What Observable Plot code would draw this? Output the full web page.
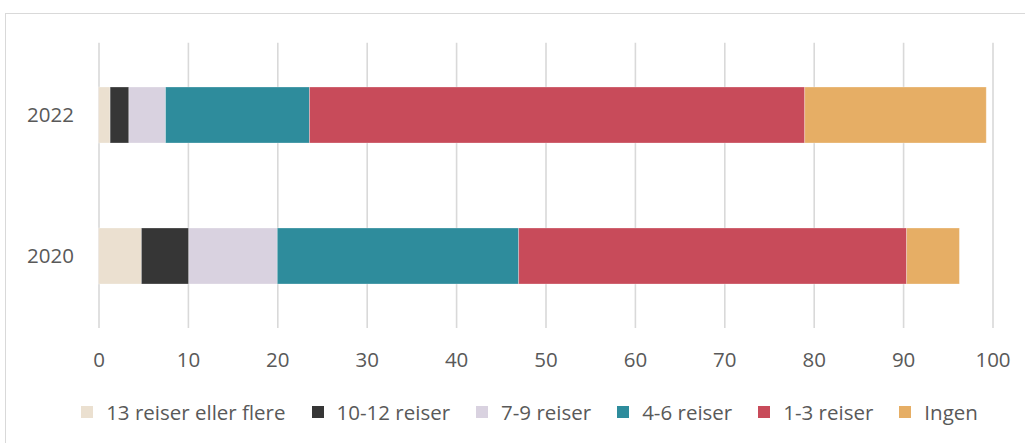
<!DOCTYPE html>
<html>
<head>
<meta charset="utf-8">
<script src="https://cdn.jsdelivr.net/npm/d3@7"></script>
<script src="https://cdn.jsdelivr.net/npm/@observablehq/plot@0.6"></script>
<style>
  body { margin: 0; background: #fff; }
  #wrap { position: relative; width: 1025px; height: 443px; overflow: hidden; font-family: "Open Sans", sans-serif; }
  #frame { position: absolute; left: 5px; top: 13px; width: 1040px; height: 440px; border: 1px solid #d9d9d9; box-sizing: border-box; }
  #chart { position: absolute; left: 0; top: 0; }
  #legend { position: absolute; left: 0; top: 398px; width: 1025px; display: flex; justify-content: center; padding-left: 34px; box-sizing: border-box; gap: 26px; font-size: 20.5px; color: #595959; }
  .item { display: flex; align-items: center; gap: 13px; white-space: nowrap; }
  .sw { width: 12px; height: 12px; display: inline-block; }
</style>
</head>
<body>
<div id="wrap">
  <div id="frame"></div>
  <div id="chart"></div>
  <div id="legend"></div>
</div>
<script>
const years = ["2022", "2020"];
const categories = ["13 reiser eller flere", "10-12 reiser", "7-9 reiser", "4-6 reiser", "1-3 reiser", "Ingen"];
const colors = ["#ebe0d0", "#363636", "#d9d2e0", "#2e8c9c", "#c84b5a", "#e6ae65"];
const values2022 = [1.3, 2.1, 4.1, 16.1, 55.4, 20.3];
const values2020 = [4.8, 5.3, 9.9, 27.0, 43.4, 5.9];
const xTicks = [0, 10, 20, 30, 40, 50, 60, 70, 80, 90, 100];

const rows = [];
categories.forEach((c, i) => {
  rows.push({year: "2022", category: c, value: values2022[i]});
  rows.push({year: "2020", category: c, value: values2020[i]});
});

const plot = Plot.plot({
  width: 1025,
  height: 380,
  marginLeft: 98.5,
  marginRight: 32.5,
  marginTop: 42.7,
  marginBottom: 52,
  style: {fontFamily: "Open Sans, sans-serif", fontSize: "20.5px", color: "#595959", background: "transparent"},
  x: {domain: [0, 100], ticks: xTicks, tickSize: 0, label: null},
  y: {domain: years, paddingInner: 0.6, paddingOuter: 0.307, tickSize: 0, label: null},
  color: {domain: categories, range: colors},
  marks: [
    Plot.gridX(xTicks, {stroke: "#d9d9d9", strokeOpacity: 1, strokeWidth: 1.6}),
    Plot.barX(rows, Plot.stackX({x: "value", y: "year", fill: "category", z: "category", order: null, stroke: "white", strokeOpacity: 0.35, strokeWidth: 0.8})),
    Plot.axisX({ticks: xTicks, tickSize: 0, tickPadding: 24, fill: "#595959", tickFormat: d => String(d)}),
    Plot.axisY({tickSize: 0, tickPadding: 25, fill: "#595959"})
  ]
});
document.getElementById("chart").appendChild(plot);

const legend = document.getElementById("legend");
categories.forEach((c, i) => {
  const item = document.createElement("div");
  item.className = "item";
  const sw = document.createElement("span");
  sw.className = "sw";
  sw.style.background = colors[i];
  const t = document.createElement("span");
  t.textContent = c;
  item.appendChild(sw);
  item.appendChild(t);
  legend.appendChild(item);
});
</script>
</body>
</html>
